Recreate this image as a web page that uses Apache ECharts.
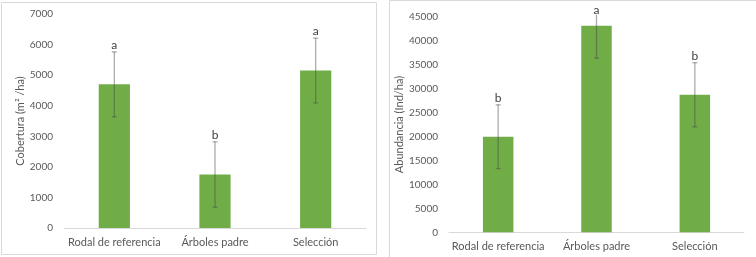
<!DOCTYPE html>
<html>
  <head>
    <meta charset="utf-8" />
    <title>Cobertura y Abundancia</title>
    <script src="https://cdn.jsdelivr.net/npm/echarts@6/dist/echarts.min.js"></script>
  </head>
  <body style="margin:0;background:#fff;">
    <div id="container" style="width:756px;height:257px;"></div>
    <script type="text/javascript">
    // categorias comunes
    var categorias = ['Rodal de referencia', 'Árboles padre', 'Selección'];

    // grafico izquierdo: cobertura
    var cobertura = [4700, 1750, 5150];
    var coberturaErr = [1060, 1070, 1060];
    var coberturaLetras = ['a', 'b', 'a'];
    var coberturaTicks = [0, 1000, 2000, 3000, 4000, 5000, 6000, 7000];

    // grafico derecho: abundancia
    var abundancia = [19950, 43100, 28700];
    var abundanciaErr = [6650, 6750, 6700];
    var abundanciaLetras = ['b', 'a', 'b'];
    var abundanciaTicks = [0, 5000, 10000, 15000, 20000, 25000, 30000, 35000, 40000, 45000];

    var verde = '#70AD47';
    var gris = '#595959';
    var fuente = 'Lato';

    function errorData(vals, errs) {
      return vals.map(function (v, i) { return [i, v - errs[i], v + errs[i]]; });
    }
    function letraData(vals, errs, letras) {
      return vals.map(function (v, i) { return [i, v + errs[i], letras[i]]; });
    }

    function renderError(params, api) {
      var lo = api.coord([api.value(0), api.value(1)]);
      var hi = api.coord([api.value(0), api.value(2)]);
      var recorte = hi[1] < params.coordSys.y;
      var top = Math.max(hi[1], params.coordSys.y - 2);
      var cap = 2.5;
      var estilo = { stroke: 'rgba(70,70,70,0.45)', lineWidth: 1.3 };
      var hijos = [
        { type: 'line', shape: { x1: lo[0], y1: top, x2: lo[0], y2: lo[1] }, style: estilo },
        { type: 'line', shape: { x1: lo[0] - cap, y1: lo[1], x2: lo[0] + cap, y2: lo[1] }, style: estilo }
      ];
      if (!recorte) {
        hijos.push({ type: 'line', shape: { x1: lo[0] - cap, y1: top, x2: lo[0] + cap, y2: top }, style: estilo });
      }
      return { type: 'group', children: hijos };
    }

    function renderLetra(params, api) {
      var p = api.coord([api.value(0), api.value(1)]);
      var y = Math.max(p[1] - 7, 10);
      return {
        type: 'text',
        x: p[0], y: y,
        style: {
          text: api.value(2), fill: '#404040', font: '12px ' + fuente,
          align: 'center', verticalAlign: 'middle'
        }
      };
    }

    function ejeX(idx) {
      return {
        type: 'category', gridIndex: idx, data: categorias,
        axisLine: { lineStyle: { color: '#d9d9d9', width: 1 } },
        axisTick: { show: false },
        axisLabel: { color: gris, fontFamily: fuente, fontSize: 11, margin: 9, interval: 0 }
      };
    }
    function ejeY(idx, ticks, nombre, gap) {
      return {
        type: 'value', gridIndex: idx,
        min: ticks[0], max: ticks[ticks.length - 1], interval: ticks[1] - ticks[0],
        name: nombre, nameLocation: 'middle', nameGap: gap, nameRotate: 90,
        nameMoveOverlap: false,
        nameTextStyle: { color: gris, fontFamily: fuente, fontSize: 11 },
        axisLine: { show: false }, axisTick: { show: false },
        splitLine: { show: false },
        axisLabel: { color: gris, fontFamily: fuente, fontSize: 10, margin: 11,
          formatter: function (v) { return String(v); } }
      };
    }

    var myChart = echarts.init(document.getElementById('container'));
    var option = {
      animation: false,
      backgroundColor: '#fff',
      graphic: [
        { type: 'rect', shape: { x: 1.5, y: 2.5, width: 375, height: 252 },
          style: { fill: 'none', stroke: '#d9d9d9', lineWidth: 1 } },
        { type: 'rect', shape: { x: 389.5, y: 0.5, width: 370, height: 260 },
          style: { fill: 'none', stroke: '#d9d9d9', lineWidth: 1 } }
      ],
      grid: [
        { left: 64, right: 390, top: 14, bottom: 29 },
        { left: 449, right: 12, top: 16.7, bottom: 24.7 }
      ],
      xAxis: [ejeX(0), ejeX(1)],
      yAxis: [
        ejeY(0, coberturaTicks, 'Cobertura (m² /ha)', 38),
        ejeY(1, abundanciaTicks, 'Abundancia (Ind/ha)', 44)
      ],
      series: [
        { type: 'bar', xAxisIndex: 0, yAxisIndex: 0, data: cobertura, barWidth: '31%',
          itemStyle: { color: verde } },
        { type: 'custom', xAxisIndex: 0, yAxisIndex: 0, renderItem: renderError,
          data: errorData(cobertura, coberturaErr), z: 3 },
        { type: 'custom', xAxisIndex: 0, yAxisIndex: 0, renderItem: renderLetra,
          data: letraData(cobertura, coberturaErr, coberturaLetras), z: 4 },
        { type: 'bar', xAxisIndex: 1, yAxisIndex: 1, data: abundancia, barWidth: '31%',
          itemStyle: { color: verde } },
        { type: 'custom', xAxisIndex: 1, yAxisIndex: 1, renderItem: renderError,
          data: errorData(abundancia, abundanciaErr), z: 3 },
        { type: 'custom', xAxisIndex: 1, yAxisIndex: 1, renderItem: renderLetra,
          data: letraData(abundancia, abundanciaErr, abundanciaLetras), z: 4 }
      ]
    };
    myChart.setOption(option);
    window.addEventListener('resize', myChart.resize);
    </script>
  </body>
</html>
